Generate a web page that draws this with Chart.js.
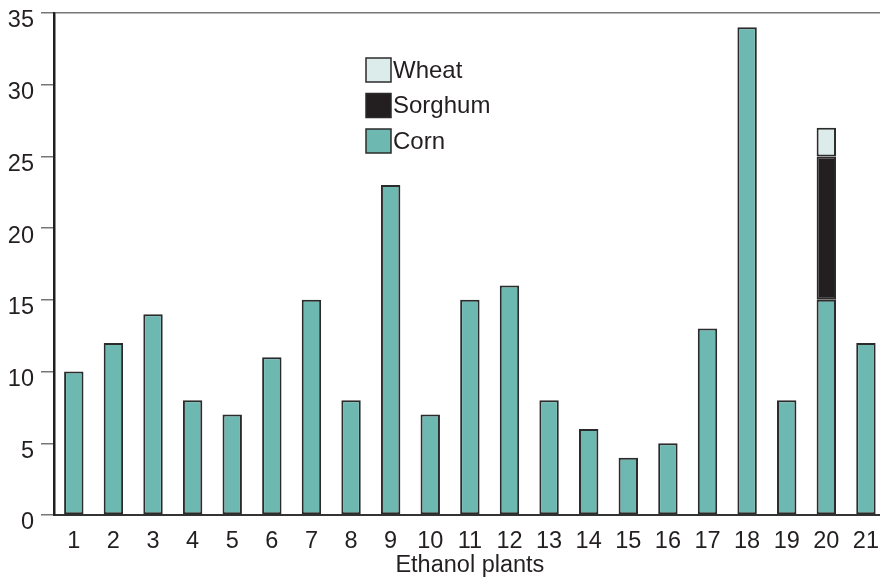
<!DOCTYPE html>
<html>
<head>
<meta charset="utf-8">
<script src="https://cdn.jsdelivr.net/npm/chart.js@4"></script>
<style>
  html, body { margin: 0; padding: 0; overflow: hidden; background: #fff; }
  #wrap { width: 891px; height: 577px; }
</style>
</head>
<body>
<div id="wrap"><canvas id="chart"></canvas></div>
<script>
const plants = ['1', '2', '3', '4', '5', '6', '7', '8', '9', '10', '11', '12', '13', '14', '15', '16', '17', '18', '19', '20', '21'];
const corn = [10, 12, 14, 8, 7, 11, 15, 8, 23, 7, 15, 16, 8, 6, 4, 5, 13, 34, 8, 15, 12];
const sorghum = [null, null, null, null, null, null, null, null, null, null, null, null, null, null, null, null, null, null, null, 10, null];
const wheat = [null, null, null, null, null, null, null, null, null, null, null, null, null, null, null, null, null, null, null, 2, null];
const yTicks = [0, 5, 10, 15, 20, 25, 30, 35];

const FONT = 'Liberation Sans, Arial, sans-serif';
const EDGE = '#2b2b2b';

// legend drawn inside the plot, top entry first
const insideLegend = {
  id: 'insideLegend',
  afterDraw(chart) {
    const c = chart.ctx;
    const items = chart.data.datasets.slice().reverse();
    c.save();
    c.font = '24px ' + FONT;
    c.textBaseline = 'middle';
    items.forEach((ds, i) => {
      const x = 366, y = 58 + i * 35.5;
      c.fillStyle = ds.backgroundColor;
      c.fillRect(x, y, 25, 24);
      c.strokeStyle = EDGE;
      c.lineWidth = 1.5;
      c.strokeRect(x, y, 25, 24);
      c.fillStyle = '#231f20';
      c.fillText(ds.label, x + 27, y + 13);
    });
    c.restore();
  }
};

new Chart(document.getElementById('chart'), {
  type: 'bar',
  data: {
    labels: plants,
    datasets: [
      { label: 'Corn', data: corn, backgroundColor: '#6db8b1' },
      { label: 'Sorghum', data: sorghum, backgroundColor: '#231f20' },
      { label: 'Wheat', data: wheat, backgroundColor: '#dcecea' },
    ],
  },
  options: {
    responsive: true,
    maintainAspectRatio: false,
    animation: false,
    layout: { padding: { left: 0, right: 0, top: 13, bottom: 0 } },
    datasets: {
      bar: {
        categoryPercentage: 1,
        barPercentage: 0.49,
        borderColor: EDGE,
        borderWidth: 2,
        borderSkipped: false,
      },
    },
    plugins: {
      legend: { display: false },
      tooltip: { enabled: false },
    },
    scales: {
      x: {
        stacked: true,
        offset: true,
        grid: { display: false, drawTicks: false },
        border: { color: '#333', width: 2 },
        ticks: { color: '#231f20', font: { family: FONT, size: 23.5 }, padding: 12, maxRotation: 0 },
        title: {
          display: true,
          text: 'Ethanol plants',
          color: '#231f20',
          font: { family: FONT, size: 23.5, lineHeight: 1 },
          padding: { top: 0, bottom: 0 },
        },
        afterFit(scale) { scale.height = 62; },
      },
      y: {
        stacked: true,
        min: 0,
        max: 35,
        afterBuildTicks(scale) { scale.ticks = yTicks.map(v => ({ value: v })); },
        grid: {
          drawOnChartArea: true,
          color: ctx => (ctx.tick && ctx.tick.value === 35 ? '#777' : 'rgba(0,0,0,0)'),
          tickColor: '#777',
          tickLength: 13,
          lineWidth: 1.5,
        },
        border: { color: '#231f20', width: 2.5 },
        ticks: { color: '#231f20', font: { family: FONT, size: 23.5, lineHeight: 0.5 }, padding: 7, labelOffset: 8 },
        afterFit(scale) { scale.width = 54; },
      },
    },
  },
  plugins: [insideLegend],
});
</script>
</body>
</html>
